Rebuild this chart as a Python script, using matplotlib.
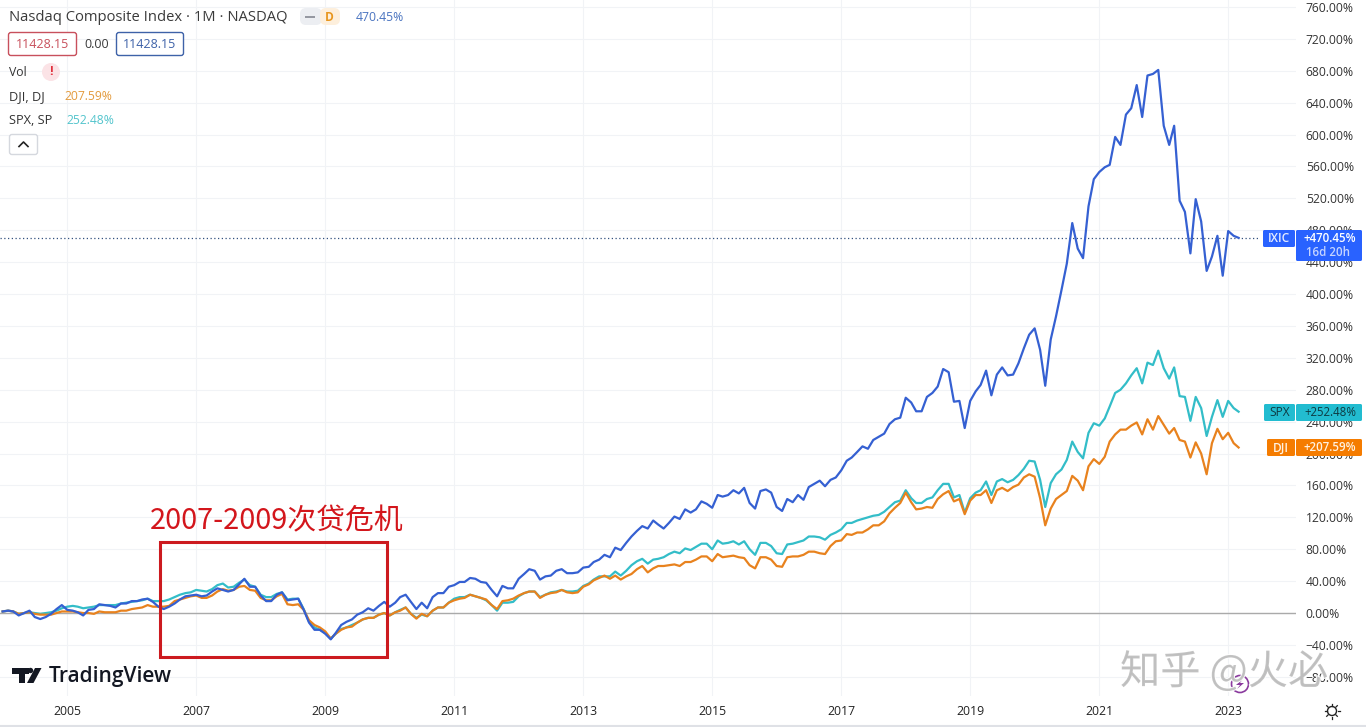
import numpy as np
import pandas as pd
import matplotlib
matplotlib.use('Agg')
import matplotlib.pyplot as plt
import matplotlib.patheffects as pe
from matplotlib.patches import Rectangle, FancyBboxPatch, Circle, Polygon

plt.rcParams['font.family'] = ['Open Sans', 'DejaVu Sans']

# Monthly values, percent change since the start of the chart
ixic = [2, 3, 2, -3, 0, 3, -5, -7.5, -5, -1, 5, 10,
        4, 3, 1, -3, 4, 5, 11, 10, 9, 7, 12, 12,
        15, 15, 17, 18, 14, 8, 5, 8, 12, 17, 21, 22,
        23, 21, 22, 27, 31, 29, 27, 29, 36, 43, 33, 33,
        22, 15, 15, 23, 26, 16, 17, 18, 4, -12, -21, -21,
        -26, -33, -25, -15, -11, -8, -2, 1, 6, 3, 9, 14,
        8, 13, 20, 23, 14, 5, 13, 6, 20, 25, 25, 33,
        35, 39, 39, 44, 43, 39, 38, 29, 21, 34, 31, 31,
        43, 49, 55, 53, 42, 46, 47, 53, 55, 50, 50, 51,
        57, 58, 64, 67, 73, 70, 82, 79, 88, 96, 103, 109,
        106, 116, 111, 106, 113, 121, 118, 130, 126, 130, 140, 137,
        132, 148, 146, 148, 154, 150, 157, 138, 131, 153, 155, 151,
        133, 128, 143, 139, 148, 142, 158, 162, 166, 159, 167, 170,
        179, 191, 195, 202, 209, 206, 217, 221, 225, 237, 243, 245,
        270, 264, 253, 253, 271, 276, 284, 306, 302, 265, 266, 232,
        266, 278, 286, 304, 273, 299, 308, 298, 299, 313, 332, 349,
        357, 330, 285, 343, 372, 405, 438, 489, 457, 445, 510, 544,
        553, 559, 562, 597, 587, 625, 633, 662, 622, 674, 676, 681,
        611, 587, 611, 517, 503, 451, 519, 491, 429, 447, 473, 423,
        479, 473, 470.45]
spx = [2, 3, 2, -1, 0, 1, 0, -1, 0, 1, 3, 6,
       8, 9, 8, 6, 7, 8, 10, 10, 10, 10, 12, 13,
       14, 15, 16, 18, 15, 15, 15, 17, 20, 23, 25, 26,
       29, 28, 27, 30, 35, 37, 32, 33, 38, 42, 35, 33,
       23, 20, 20, 24, 26, 17, 18, 18, 5, -11, -18, -21,
       -25, -32, -26, -20, -18, -15, -12, -8, -6, -6, -2, 0,
       -3, 1, 4, 7, -1, -6, -2, -4, 3, 7, 7, 13,
       18, 20, 20, 23, 21, 19, 16, 10, 3, 13, 13, 14,
       21, 25, 27, 27, 20, 23, 26, 27, 29, 27, 27, 28,
       34, 37, 42, 46, 46, 46, 52, 47, 53, 60, 65, 68,
       62, 67, 68, 70, 74, 77, 75, 81, 79, 83, 87, 87,
       80, 91, 87, 88, 90, 86, 90, 80, 73, 88, 88, 84,
       75, 74, 86, 87, 89, 91, 96, 96, 95, 92, 98, 101,
       105, 113, 113, 116, 118, 120, 122, 123, 127, 133, 139, 141,
       154, 144, 138, 138, 143, 145, 154, 162, 162, 145, 148, 126,
       144, 151, 154, 165, 148, 165, 168, 164, 167, 173, 181, 191,
       190, 167, 133, 163, 174, 180, 192, 215, 202, 194, 226, 238,
       235, 244, 259, 276, 280, 288, 298, 307, 288, 314, 311, 329,
       307, 294, 308, 272, 271, 241, 271, 257, 222, 246, 267, 246,
       266, 257, 252.48]
dji = [2, 3, 2, -1, 0, 1, -1, -2, -2, -2, 0, 2,
       2, 2, 1, 0, 0, -1, 2, 1, 1, 1, 3, 3,
       5, 6, 7, 10, 8, 8, 8, 9, 15, 17, 19, 21,
       22, 19, 19, 22, 27, 30, 28, 29, 33, 34, 29, 28,
       19, 16, 16, 21, 24, 11, 10, 11, 4, -9, -15, -18,
       -23, -32, -26, -21, -18, -17, -12, -8, -6, -6, -2, 0,
       -3, 1, 3, 7, -1, -7, -1, -4, 3, 7, 7, 13,
       16, 18, 19, 23, 21, 19, 17, 10, 5, 15, 16, 18,
       22, 25, 27, 27, 19, 23, 25, 26, 29, 26, 25, 26,
       33, 36, 41, 44, 47, 43, 47, 42, 46, 49, 55, 59,
       51, 56, 59, 59, 60, 61, 59, 64, 64, 67, 71, 71,
       65, 74, 70, 71, 72, 70, 69, 60, 56, 70, 70, 67,
       59, 58, 70, 71, 71, 73, 77, 77, 75, 74, 84, 90,
       91, 99, 98, 101, 101, 105, 110, 110, 115, 125, 132, 138,
       151, 139, 130, 131, 133, 132, 143, 149, 153, 140, 143, 124,
       141, 148, 148, 154, 138, 154, 157, 153, 158, 161, 170, 174,
       171, 144, 110, 131, 143, 148, 153, 172, 166, 154, 184, 193,
       187, 196, 215, 224, 230, 230, 235, 239, 224, 243, 230, 247,
       236, 225, 232, 217, 215, 195, 214, 200, 174, 213, 231, 218,
       226, 213, 207.59]

years = [2005, 2007, 2009, 2011, 2013, 2015, 2017, 2019, 2021, 2023]
y_ticks = list(range(-80, 761, 40))
last_value = 470.45

BLUE = '#3560d2'
TEAL = '#33bdc8'
ORANGE = '#e8821e'
GRID = '#f1f3f6'

dates = pd.date_range('2004-01-01', periods=len(ixic), freq='MS')

fig = plt.figure(figsize=(13.66, 7.27), dpi=100)
ax = fig.add_axes([0, 31 / 727, 1296 / 1366, 696 / 727])

ax.plot(dates, spx, color=TEAL, lw=1.6, zorder=3)
ax.plot(dates, dji, color=ORANGE, lw=1.6, zorder=4)
ax.plot(dates, ixic, color=BLUE, lw=1.6, zorder=5)

ax.axhline(0, color='#aaaaaa', lw=1, zorder=2)
ax.axhline(last_value, xmax=1258 / 1296, color='#33507f', lw=0.9, ls=(0, (1, 2)), zorder=2)

ax.set_xlim(pd.Timestamp('2003-12-17'), pd.Timestamp('2024-01-20'))
ax.set_ylim(-104, 768.7)
ax.set_xticks([pd.Timestamp(f'{y}-01-01') for y in years])
ax.set_xticklabels([str(y) for y in years], fontsize=8.8, color='#222222')
ax.set_yticks(y_ticks)
ax.set_yticklabels([f'{v:.2f}%'.replace('-', '\u2212') for v in y_ticks], fontsize=8.7, color='#333333')
ax.yaxis.tick_right()
ax.tick_params(axis='both', length=0)
ax.tick_params(axis='x', pad=6.5)
ax.tick_params(axis='y', pad=7)
ax.grid(color=GRID, lw=0.8)
ax.set_axisbelow(True)
for s in ax.spines.values():
    s.set_visible(False)

# everything else sits on a full size overlay in pixel coordinates
ov = fig.add_axes([0, 0, 1, 1], zorder=5)
ov.set_xlim(0, 1366)
ov.set_ylim(727, 0)
ov.axis('off')


def rounded(x0, y0, x1, y1, face='white', edge='none', lw=1, r=2):
    ov.add_patch(FancyBboxPatch((x0 + r, y0 + r), x1 - x0 - 2 * r, y1 - y0 - 2 * r,
                                boxstyle=f'round,pad={r},rounding_size={r}',
                                fc=face, ec=edge, lw=lw))


def label(x, y, s, color='#333333', size=8.6, ha='left', **kw):
    ov.text(x, y + 0.8, s, color=color, fontsize=size, ha=ha, va='center', **kw)


# legend block, top left
label(9, 17, 'Nasdaq Composite Index \u00b7 1M \u00b7 NASDAQ', size=10.6, color='#3a3a3a')
rounded(300, 8, 322, 25, face='#eceef2', r=6)
rounded(320, 8, 340, 25, face='#fdefdc', r=6)
ov.add_patch(Rectangle((305, 15.5), 10, 2.5, fc='#9598a1'))
label(329, 16.5, 'D', color='#e8961e', size=8.6, ha='center', fontweight='bold')
label(356, 17, '470.45%', color='#4a74c0', size=8.8)

rounded(8.5, 32.5, 76.5, 55.5, edge='#c8505c', r=2.5)
label(42.5, 44, '11428.15', color='#c8505c', size=9, ha='center')
label(84, 43.5, '0.00', color='#3a3a3a', size=9)
rounded(116.5, 32.5, 183.5, 55.5, edge='#3e62a8', r=2.5)
label(150, 44, '11428.15', color='#3e62a8', size=9, ha='center')

label(9, 72, 'Vol', size=8.8)
ov.add_patch(Circle((51, 72), 9, fc='#fbe3e6', ec='none'))
label(51, 71, '!', color='#e0303c', size=9, ha='center', fontweight='bold')
label(9, 96, 'DJI, DJ', size=9.2)
label(64, 96, '207.59%', color='#e39a3c', size=8.7)
label(9, 120, 'SPX, SP', size=9.2)
label(66, 120, '252.48%', color='#52c4cc', size=8.7)
rounded(9.5, 134.5, 37.5, 154.5, edge='#d5d8de', r=2.5)
ov.plot([19, 23.5, 28], [146.5, 142, 146.5], color='#222222', lw=1.2)

# price tags on the scale
rounded(1263, 230, 1295, 247, face='#2962ff', r=1.5)
rounded(1296, 230, 1362, 261, face='#2962ff', r=1.5)
label(1279, 238, 'IXIC', color='#e6ecff', size=8.6, ha='center', fontweight='semibold')
label(1330, 238, '+470.45%', color='white', size=8.3, ha='center', fontweight='semibold')
label(1328, 252, '16d 20h', color='#c5d4ff', size=8.3, ha='center', fontweight='semibold')
rounded(1264, 404, 1295, 421, face='#22bcd0', r=1.5)
rounded(1296, 404, 1362, 421, face='#22bcd0', r=1.5)
label(1279.5, 412, 'SPX', color='#0d3a42', size=8.6, ha='center')
label(1330, 412, '+252.48%', color='#0d3a42', size=8.3, ha='center')
rounded(1267, 439, 1295, 456, face='#f57c00', r=1.5)
rounded(1296, 439, 1362, 456, face='#f57c00', r=1.5)
label(1281, 447, 'DJI', color='#fff1e0', size=8.6, ha='center', fontweight='semibold')
label(1330, 447, '+207.59%', color='#fff1e0', size=8.3, ha='center', fontweight='semibold')

# red annotation
ov.add_patch(Rectangle((160, 542), 227, 115, fc='none', ec='#cc1a1f', lw=2.2))
ov.text(150, 521, '2007-2009次贷危机', color='#d3161c', fontsize=20.8, va='center',
        family=['Noto Sans CJK SC', 'DejaVu Sans'])

# TradingView mark
ov.add_patch(Rectangle((12, 668), 17, 5.5, fc='#131722'))
ov.add_patch(Rectangle((19, 668), 6, 15, fc='#131722'))
ov.add_patch(Circle((30.5, 670.5), 2.7, fc='#131722'))
ov.add_patch(Polygon([[35, 668], [41.5, 668], [33.5, 683], [27, 683]], fc='#131722'))
label(49, 675.5, 'TradingView', color='#131722', size=15, fontweight='semibold')

# bottom bits
ov.plot([0, 1366], [725.5, 725.5], color='#dfe1e6', lw=1.5)
ov.add_patch(Circle((1240, 684), 8.5, fc='none', ec='#8a3a9e', lw=1.2))
ov.add_patch(Polygon([[1243, 679], [1236, 685], [1240, 685], [1237, 689], [1244, 683], [1240, 683]],
                     fc='#8a3a9e'))
ov.add_patch(Circle((1332, 711), 4.5, fc='none', ec='#222222', lw=1))
for a in np.arange(0, 360, 45):
    dx, dy = np.cos(np.radians(a)), np.sin(np.radians(a))
    ov.plot([1332 + 5.5 * dx, 1332 + 7.5 * dx], [711 + 5.5 * dy, 711 + 7.5 * dy], color='#222222', lw=0.9)

# watermark
ov.text(1120, 672, '知乎 @火必', color='#bdbdbd', alpha=0.9, fontsize=29, va='center',
        family=['Noto Sans CJK SC', 'DejaVu Sans'],
        path_effects=[pe.withStroke(linewidth=1.5, foreground='white')])

fig.savefig('out.png', dpi=100)
